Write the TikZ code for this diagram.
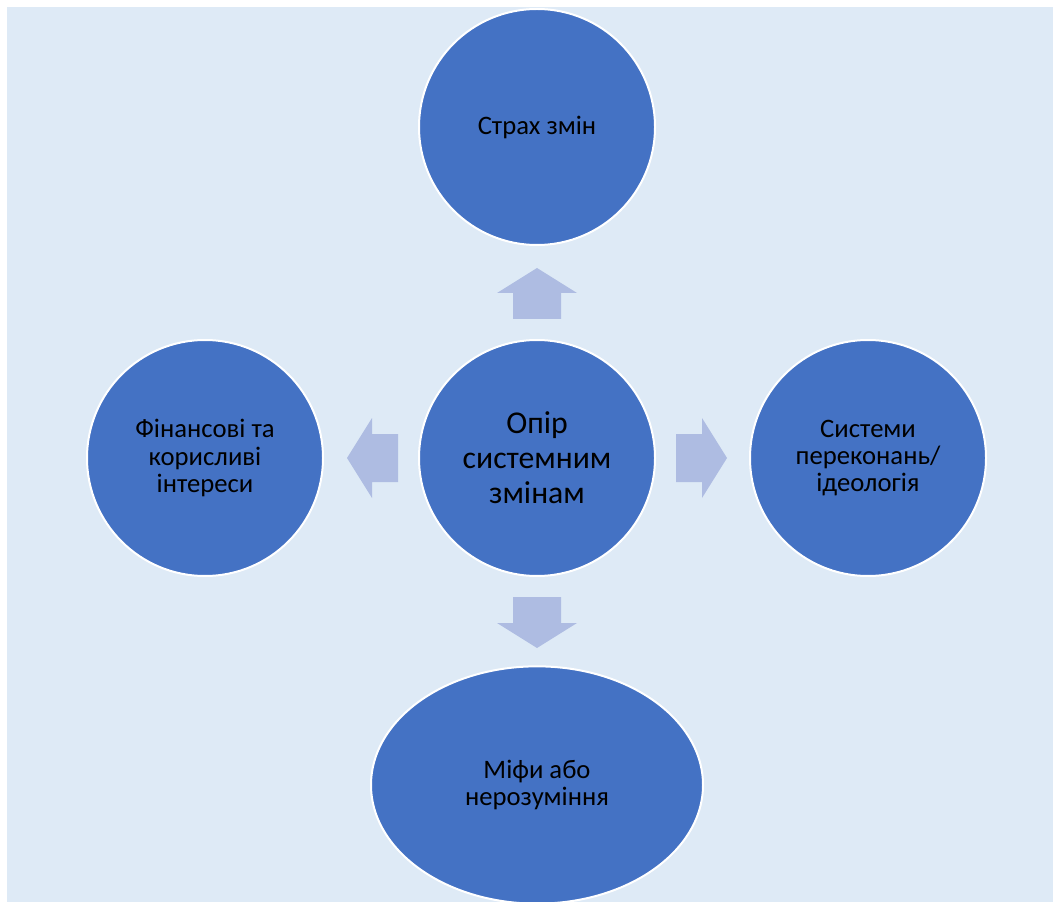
\documentclass[tikz,border=0pt]{standalone}
\usepackage{fontspec}
\setmainfont{Carlito}
\usetikzlibrary{shapes.geometric}
\definecolor{bgBlue}{HTML}{DEEAF6}
\definecolor{discBlue}{HTML}{4472C4}
\definecolor{arrowBlue}{HTML}{AEBCE2}

\begin{document}
\begin{tikzpicture}
[x=0.75pt,y=-0.75pt,%
  nodeDecorate/.style={shape=circle,minimum size=177pt,inner sep=0pt,
    fill=discBlue,draw=white,line width=1.5pt,align=center,
    font=\fontsize{20}{20.6}\selectfont},%
  ovalDecorate/.style={nodeDecorate,shape=ellipse,minimum width=249pt,
    minimum height=178pt},%
  arrowDecorate/.style={fill=arrowBlue,draw=none}]
\useasboundingbox (0,0) rectangle (1053,902);
\fill[bgBlue] (7,7) rectangle (1053,902);
%% nodes or vertices
\node (core) at (537,458) [nodeDecorate,
  font=\fontsize{23.8}{26.3}\selectfont] {Опір\\системним\\змінам};
\foreach \nodename/\x/\y/\txt in {
  fear/537/127/{Страх змін},
  money/205/458/{Фінансові та\\корисливі\\інтереси},
  belief/868/458/{Системи\\переконань/\\ідеологія}}
{
  \node (\nodename) at (\x,\y) [nodeDecorate] {\txt};
}
\node (myth) at (537,785) [ovalDecorate] {Міфи або\\нерозуміння};
%% block arrows
\foreach \angle in {90,180,0,270}
{
  \fill[arrowDecorate,shift={(core.center)},rotate=\angle]
    (139,-24) -- (165,-24) -- (165,-40) -- (190,0) -- (165,40)
    -- (165,24) -- (139,24) -- cycle;
};
\end{tikzpicture}
\end{document}
